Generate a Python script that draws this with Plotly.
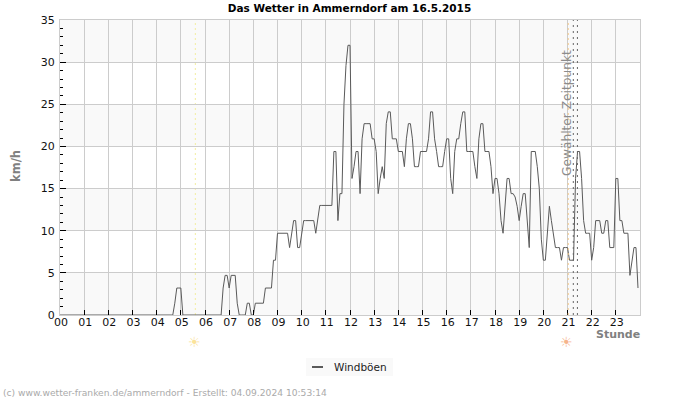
import plotly.graph_objects as go

FONT = "DejaVu Sans"
hours_labels = [f"{h:02d}" for h in range(24)]
y_ticks = [0, 5, 10, 15, 20, 25, 30, 35]
bands = [(0, 5), (10, 15), (20, 25), (30, 35)]
sunrise = 5.6
sunset = 21.03
selected = [21.24, 21.41]
series_name = "Windböen"

h00_03 = [0] * 48
h04 = [0, 0, 0, 0, 0, 0, 0, 0, 0, 1.4, 3.2, 3.2]
h05 = [3.2, 0, 0, 0, 0, 0, 0, 0, 0, 0, 0, 0]
h06 = [0, 0, 0, 0, 0, 0, 0, 0, 0, 3.2, 4.7, 4.7]
h07 = [3.2, 4.7, 4.7, 4.7, 1.4, 0, 0, 0, 0, 1.4, 1.4, 0]
h08 = [0, 1.4, 1.4, 1.4, 1.4, 1.4, 3.2, 3.2, 3.2, 3.2, 6.5, 6.5]
h09 = [9.7, 9.7, 9.7, 9.7, 9.7, 9.7, 8, 9.7, 11.2, 11.2, 8, 8]
h10 = [9.7, 11.2, 11.2, 11.2, 11.2, 11.2, 11.2, 9.7, 11.2, 13, 13, 13]
h11 = [13, 13, 13, 13, 19.4, 19.4, 11.2, 14.4, 14.4, 25, 29.6, 32]
h12 = [32, 16.2, 17.6, 19.4, 19.4, 14.4, 20.9, 22.7, 22.7, 22.7, 22.7, 20.9]
h13 = [20.9, 19.4, 14.4, 16.2, 17.6, 16.2, 22.7, 24.1, 24.1, 20.9, 20.9, 20.9]
h14 = [19.4, 19.4, 19.4, 17.6, 20.9, 22.7, 22.7, 20.9, 17.6, 17.6, 17.6, 19.4]
h15 = [19.4, 19.4, 19.4, 20.9, 24.1, 24.1, 20.9, 19.4, 17.6, 17.6, 17.6, 19.4]
h16 = [20.9, 20.9, 16.2, 14.4, 19.4, 20.9, 20.9, 22.7, 24.1, 24.1, 19.4, 19.4]
h17 = [19.4, 19.4, 17.6, 16.2, 20.9, 22.7, 22.7, 19.4, 19.4, 19.4, 17.6, 14.4]
h18 = [16.2, 16.2, 14.4, 11.2, 9.7, 12.9, 16.2, 16.2, 14.4, 14.4, 14.0, 12.9]
h19 = [11.2, 12.9, 14.4, 14.4, 11.2, 8, 19.4, 19.4, 19.4, 17.6, 15.0, 9]
h20 = [6.5, 6.5, 9.7, 12.9, 11.2, 9.7, 8, 8, 8, 6.5, 8, 8]
h21 = [8, 6.5, 6.5, 6.5, 16.2, 19.4, 19.4, 16.2, 11.2, 9.7, 9.7, 9.7]
h22 = [6.5, 8, 11.2, 11.2, 11.2, 9.7, 9.7, 11.2, 11.2, 8, 8, 8]
h23 = [16.2, 16.2, 11.2, 11.2, 9.7, 9.7, 9.7, 4.7, 6.5, 8, 8, 3.2]

gusts = (h00_03 + h04 + h05 + h06 + h07 + h08 + h09 + h10 + h11 + h12 + h13
         + h14 + h15 + h16 + h17 + h18 + h19 + h20 + h21 + h22 + h23)
times = [i / 12 for i in range(len(gusts))]

LINE = "#5a5a5a"


def px(x):
    return (x - 60) / 580


def py(y):
    return (315 - y) / 295


fig = go.Figure()
for lo, hi in bands:
    fig.add_shape(type="rect", x0=0, x1=24, y0=lo, y1=hi, fillcolor="#f9f9f9",
                  line_width=0, layer="below")
fig.add_trace(go.Scatter(x=times, y=gusts, mode="lines", name=series_name, showlegend=False,
                         line=dict(color=LINE, width=1, shape="linear")))
fig.add_shape(type="line", x0=sunrise, x1=sunrise, y0=0, y1=35,
              line=dict(color="#f2eda0", width=1, dash="2px,3px"), layer="below")
fig.add_shape(type="line", x0=sunset, x1=sunset, y0=0, y1=35,
              line=dict(color="#f5c98a", width=1, dash="2px,3px"), layer="above")
for s in selected:
    fig.add_shape(type="line", x0=s, x1=s, y0=0, y1=35,
                  line=dict(color="#666666", width=1, dash="2px,4px"), layer="above")

# legend box
fig.add_shape(type="rect", xref="paper", yref="paper", x0=px(306), x1=px(393), y0=py(376), y1=py(358),
              fillcolor="#f9f9f9", line_width=0)
fig.add_shape(type="line", xref="paper", yref="paper", x0=px(312), x1=px(323), y0=py(367), y1=py(367),
              line=dict(color=LINE, width=2))
fig.add_annotation(x=px(332), xref="paper", xanchor="left", y=py(366.5), yref="paper", yanchor="middle",
                   text=series_name, showarrow=False, font=dict(family=FONT, size=10.5, color="#222222"))

fig.add_annotation(x=20.95, y=16.3, xref="x", yref="y", text="Gewählter Zeitpunkt", textangle=-90,
                   showarrow=False, xanchor="center", yanchor="bottom",
                   font=dict(family=FONT, size=12.2, color="#8c8c8c"))
fig.add_annotation(x=sunrise - 0.02, xref="x", yref="paper", y=py(341.5), yanchor="middle", text="☀",
                   showarrow=False, font=dict(family=FONT, size=14, color="#fbe39a"))
fig.add_annotation(x=20.97, xref="x", yref="paper", y=py(341.5), yanchor="middle", text="☀",
                   showarrow=False, font=dict(family=FONT, size=14, color="#f6b48c"))
fig.add_annotation(x=px(642), xref="paper", y=py(334), yref="paper", yanchor="middle", text="<b>Stunde</b>",
                   showarrow=False, xanchor="right", font=dict(family=FONT, size=11, color="#808080"))
fig.add_annotation(x=px(15.5), xref="paper", xanchor="center", y=py(166.5), yref="paper", yanchor="middle",
                   text="<b>km/h</b>", textangle=-90, showarrow=False,
                   font=dict(family=FONT, size=11.5, color="#808080"))
fig.add_annotation(x=px(1), xref="paper", xanchor="left", y=py(393), yref="paper", yanchor="middle",
                   text="(c) www.wetter-franken.de/ammerndorf - Erstellt: 04.09.2024 10:53:14",
                   showarrow=False, font=dict(family=FONT, size=9.15, color="#aaaaaa"))

fig.update_layout(
    width=700, height=400, margin=dict(l=60, r=60, t=20, b=85),
    paper_bgcolor="white", plot_bgcolor="white",
    title=dict(text="<b>Das Wetter in Ammerndorf am 16.5.2015</b>", x=349.5 / 700, xanchor="center", y=0.98,
               yanchor="middle", font=dict(family=FONT, size=10.5, color="black")),
    font=dict(family=FONT, size=11, color="black"),
    showlegend=False,
    xaxis=dict(range=[0, 24], tickmode="array", tickvals=list(range(24)), ticktext=hours_labels,
               showgrid=True, gridcolor="#cccccc", gridwidth=1, ticks="inside", ticklen=5, tickcolor="black",
               tickwidth=1, showline=True, linecolor="#cccccc", mirror=True, zeroline=False,
               tickfont=dict(size=11, color="#111111"), ticklabelstandoff=-3, ticklabelshift=1),
    yaxis=dict(range=[0, 35], tickmode="array", tickvals=y_ticks, showgrid=True, gridcolor="#cccccc",
               gridwidth=1, ticks="inside", ticklen=6, tickcolor="black", tickwidth=1,
               showline=True, linecolor="#cccccc", mirror=True, zeroline=False,
               tickfont=dict(size=11, color="#111111"), ticklabelstandoff=2,
               minor=dict(dtick=1, ticks="inside", ticklen=3, tickcolor="black", tickwidth=1, showgrid=False)),
)
fig.write_html("out.html", post_script="document.body.style.margin='0';", config=dict(displayModeBar=False))
